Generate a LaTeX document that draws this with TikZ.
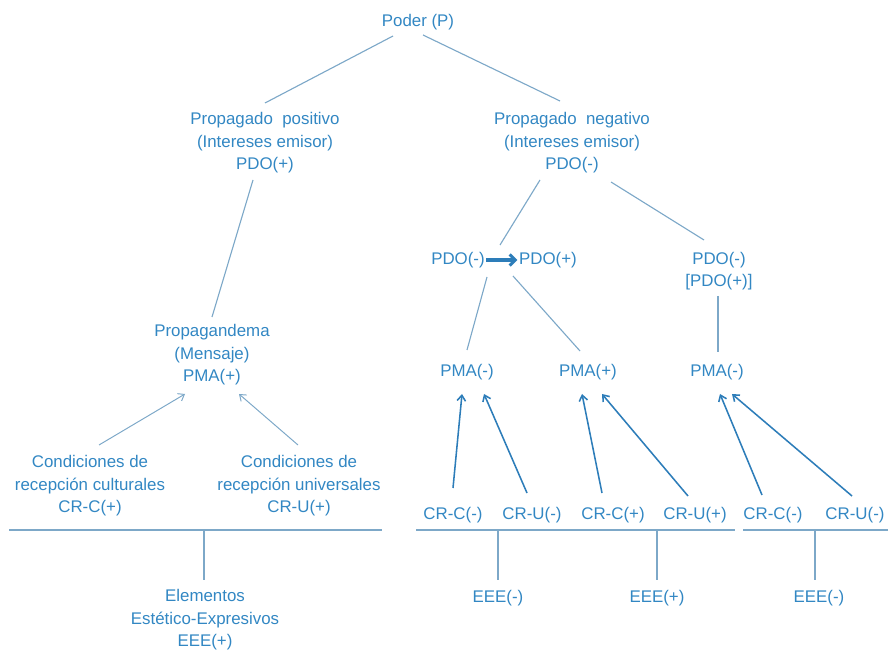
\documentclass[tikz,border=0pt]{standalone}
\usepackage{fontspec}
\setmainfont{Liberation Sans}
\usetikzlibrary{arrows.meta}
\definecolor{txtblue}{RGB}{50,135,195}
\definecolor{lineblue}{RGB}{125,168,200}
\definecolor{arrowblue}{RGB}{45,125,185}
\tikzset{
	every node/.style = {text=txtblue, align=center, inner sep=1pt,
		font=\fontsize{12}{16}\selectfont},
	link/.style = {draw=lineblue, line width=0.8pt},
	bar/.style = {draw=lineblue, line width=1pt},
	thinarrow/.style = {draw=lineblue, line width=0.7pt, -{Straight Barb[length=4pt,width=6pt]}},
	cond/.style = {draw=arrowblue, line width=1.1pt, -{Straight Barb[length=4pt,width=6pt]}},
	bigarrow/.style = {draw=arrowblue, line width=2.2pt, -{Straight Barb[length=4pt,width=8pt]}}
}

\begin{document}
\begin{tikzpicture}[x=0.025cm, y=-0.025cm]
	\useasboundingbox (0,0) rectangle (888,655);
	\node (poder) at (418,22) {Poder (P)};
	\node (pos) at (265,143) {Propagado\ \ positivo\\(Intereses emisor)\\PDO(+)};
	\node (neg) at (572,143) {Propagado\ \ negativo\\(Intereses emisor)\\PDO(-)};
	\node (pdoa) at (458,260) {PDO(-)};
	\node (pdob) at (548,260) {PDO(+)};
	\node (pdoc) at (719,271) {PDO(-)\\{[PDO(+)]}};
	\node (pma) at (212,355) {Propagandema\\(Mensaje)\\PMA(+)};
	\node (pmaa) at (467,372) {PMA(-)};
	\node (pmab) at (588,372) {PMA(+)};
	\node (pmac) at (717,372) {PMA(-)};
	\node (crc) at (90,486) {Condiciones de\\recepción culturales\\CR-C(+)};
	\node (cru) at (299,486) {Condiciones de\\recepción universales\\CR-U(+)};
	\node (cra) at (453,515) {CR-C(-)};
	\node (crb) at (532,515) {CR-U(-)};
	\node (crcc) at (613,515) {CR-C(+)};
	\node (crd) at (695,515) {CR-U(+)};
	\node (cre) at (773,515) {CR-C(-)};
	\node (crf) at (855,515) {CR-U(-)};
	\node (eee) at (205,620) {Elementos\\Estético-Expresivos\\EEE(+)};
	\node (eeea) at (498,598) {EEE(-)};
	\node (eeeb) at (657,598) {EEE(+)};
	\node (eeec) at (819,598) {EEE(-)};
	\coordinate (barL1) at (9,530);
	\coordinate (barL2) at (382,530);
	\coordinate (barR1) at (416,530);
	\coordinate (barR2) at (735,530);
	\coordinate (barS1) at (743,530);
	\coordinate (barS2) at (888,530);
	% tree
	\draw[link] ([shift={(-25,14)}]poder.center) -- ([shift={(0,-40)}]pos.center);
	\draw[link] ([shift={(5,13)}]poder.center) -- ([shift={(-12,-42)}]neg.center);
	\draw[link] ([shift={(-12,37)}]pos.center) -- ([shift={(0,-38)}]pma.center);
	\draw[link] ([shift={(-32,37)}]neg.center) -- ([shift={(42,-15)}]pdoa.center);
	\draw[link] ([shift={(39,39)}]neg.center) -- ([shift={(-15,-31)}]pdoc.center);
	\draw[bigarrow] (pdoa) -- (pdob);
	\draw[link] ([shift={(29,17)}]pdoa.center) -- ([shift={(0,-22)}]pmaa.center);
	\draw[link] ([shift={(-35,16)}]pdob.center) -- ([shift={(-8,-21)}]pmab.center);
	\draw[link] ([shift={(-1,25)}]pdoc.center) -- ([shift={(1,-20)}]pmac.center);
	% reception conditions
	\draw[thinarrow] ([shift={(9,-41)}]crc.center) -- ([shift={(-27,39)}]pma.center);
	\draw[thinarrow] ([shift={(-1,-41)}]cru.center) -- ([shift={(27,39)}]pma.center);
	\draw[cond] ([shift={(0,-27)}]cra.center) -- ([shift={(-5,22)}]pmaa.center);
	\draw[cond] ([shift={(-5,-22)}]crb.center) -- ([shift={(17,22)}]pmaa.center);
	\draw[cond] ([shift={(-11,-22)}]crcc.center) -- ([shift={(-6,22)}]pmab.center);
	\draw[cond] ([shift={(-7,-19)}]crd.center) -- ([shift={(14,22)}]pmab.center);
	\draw[cond] ([shift={(-11,-20)}]cre.center) -- ([shift={(3,22)}]pmac.center);
	\draw[cond] ([shift={(-3,-19)}]crf.center) -- ([shift={(15,22)}]pmac.center);
	% bars
	\draw[bar] (barL1) -- (barL2);
	\draw[bar] (barR1) -- (barR2);
	\draw[bar] (barS1) -- (barS2);
	\draw[bar] ([shift={(-1,0)}]eee.center |- barL1) -- ([shift={(-1,-40)}]eee.center);
	\draw[bar] (eeea.center |- barR1) -- ([shift={(0,-18)}]eeea.center);
	\draw[bar] (eeeb.center |- barR1) -- ([shift={(0,-18)}]eeeb.center);
	\draw[bar] ([shift={(-4,0)}]eeec.center |- barS1) -- ([shift={(-4,-18)}]eeec.center);
\end{tikzpicture}
\end{document}
